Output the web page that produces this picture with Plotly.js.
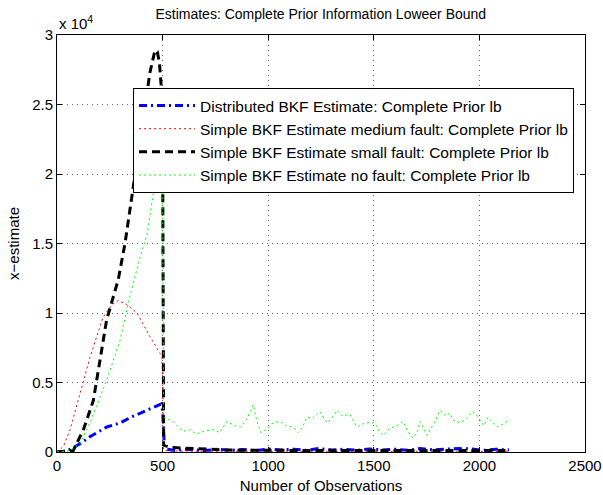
<!DOCTYPE html>
<html>
<head>
<meta charset="utf-8">
<script src="https://cdn.plot.ly/plotly-3.0.1.min.js"></script>
<style>html,body{margin:0;padding:0;background:#fff}#chart{width:603px;height:495px}</style>
</head>
<body>
<div id="chart"></div>
<script>
// y values are in units of 10^4 (as shown on the axis)
const seriesNames = [
  'Distributed BKF Estimate: Complete Prior lb',
  'Simple BKF Estimate medium fault: Complete Prior lb',
  'Simple BKF Estimate small fault: Complete Prior lb',
  'Simple BKF Estimate no fault: Complete Prior lb'
];

const distObs = [0,40,77,120,156,200,236,280,313,350,393,440,478,492,500,503,508,520,560,600,650,700,760,820,880,940,1000,1060,1120,1180,1240,1300,1360,1420,1480,1540,1600,1660,1720,1780,1840,1900,1960,2020,2080,2140];
const distEst = [0,0.005,0.03,0.07,0.11,0.15,0.18,0.20,0.22,0.25,0.28,0.31,0.34,0.345,0.3,0.18,0.05,0.02,0.01,0.02,0.015,0.01,0.02,0.012,0.018,0.01,0.022,0.015,0.02,0.012,0.025,0.015,0.02,0.012,0.022,0.015,0.02,0.012,0.025,0.015,0.02,0.025,0.022,0.012,0.02,0.015];

const medObs = [0,30,62,109,156,218,260,290,330,379,440,488,498,503,510,560,620,700,800,900,1000,1100,1200,1300,1400,1500,1600,1700,1800,1900,2000,2100,2140];
const medEst = [0,0.04,0.16,0.42,0.68,0.97,1.06,1.09,1.06,1.0,0.83,0.71,0.68,0.03,0.01,0.008,0.006,0.005,0.006,0.005,0.006,0.004,0.005,0.006,0.005,0.004,0.006,0.005,0.004,0.005,0.006,0.005,0.005];

const smallObs = [0,40,77,125,172,235,290,322,380,440,464,475,485,495,500,505,530,560,600,650,700,800,900,1000,1100,1200,1300,1400,1500,1600,1700,1800,1900,2000,2100,2140];
const smallEst = [0,0.003,0.01,0.16,0.37,0.95,1.24,1.5,2.1,2.73,2.89,2.88,2.8,2.6,2.3,0.05,0.035,0.03,0.028,0.025,0.02,0.015,0.012,0.012,0.01,0.012,0.01,0.011,0.01,0.012,0.01,0.011,0.01,0.012,0.01,0.01];

const noObs = [0,60,109,156,236,298,345,393,426,455,480,495,500,505,520,550,580,600,630,660,700,740,770,805,840,870,900,930,945,965,990,1023,1056,1085,1117,1141,1160,1183,1210,1245,1278,1300,1325,1350,1387,1420,1445,1467,1505,1525,1544,1575,1610,1638,1660,1686,1705,1719,1752,1770,1790,1813,1840,1861,1875,1908,1940,1965,1985,2003,2020,2041,2060,2083,2110,2131,2140];
const noEst = [0,0.01,0.06,0.21,0.52,0.8,1.12,1.4,1.56,1.85,2.0,2.05,2.0,0.25,0.24,0.22,0.17,0.15,0.16,0.13,0.15,0.16,0.14,0.22,0.19,0.18,0.24,0.34,0.23,0.14,0.16,0.21,0.22,0.19,0.18,0.14,0.17,0.25,0.24,0.29,0.21,0.24,0.30,0.26,0.27,0.18,0.20,0.21,0.21,0.15,0.12,0.17,0.19,0.22,0.15,0.10,0.14,0.22,0.12,0.17,0.22,0.30,0.26,0.28,0.23,0.21,0.24,0.29,0.27,0.23,0.19,0.25,0.22,0.18,0.20,0.22,0.23];

const xTicks = [0,500,1000,1500,2000,2500];
const yTicks = [0,0.5,1,1.5,2,2.5,3];
const yTickText = ['0','0.5','1','1.5','2','2.5','3'];

const FONT = 'Liberation Sans, Arial, Helvetica, sans-serif';

const traces = [
  {x: distObs, y: distEst, name: seriesNames[0], line:{color:'#0000ff', width:3, dash:'8px,4px,2px,4px'}},
  {x: medObs, y: medEst, name: seriesNames[1], line:{color:'#ff0000', width:1, dash:'2px,3px'}},
  {x: smallObs, y: smallEst, name: seriesNames[2], line:{color:'#000000', width:3, dash:'8px,5px'}},
  {x: noObs, y: noEst, name: seriesNames[3], line:{color:'#00ff00', width:1, dash:'2px,3px'}}
].map(t => Object.assign({type:'scatter', mode:'lines'}, t));

const axisCommon = {
  showline: true, linecolor: '#000', linewidth: 1, mirror: 'ticks',
  ticks: 'inside', ticklen: 5, tickcolor: '#000',
  showgrid: true, gridcolor: 'rgba(0,0,0,0.6)', gridwidth: 1, griddash: '1px,4px',
  zeroline: false, tickfont: {family: FONT, size: 15, color: '#000'}
};

const layout = {
  width: 603, height: 495,
  margin: {l: 57, r: 18, t: 35, b: 43},
  paper_bgcolor: '#fff', plot_bgcolor: '#fff',
  font: {family: FONT, size: 15, color: '#000'},
  title: {text: 'Estimates: Complete Prior Information Loweer Bound', font: {family: FONT, size: 14, color:'#000'}, x: 0.532, xanchor: 'center', y: 0.972, yanchor: 'middle'},
  xaxis: Object.assign({}, axisCommon, {range: [0, 2500], tickvals: xTicks, ticktext: xTicks.map(String),
    title: {text: 'Number of Observations', font: {family: FONT, size: 15}, standoff: 7}}),
  yaxis: Object.assign({}, axisCommon, {range: [0, 3], tickvals: yTicks, ticktext: yTickText,
    title: {text: 'x\u2212estimate', font: {family: FONT, size: 15}, standoff: 8}}),
  showlegend: true,
  legend: {x: 0.144, y: 0.873, xanchor: 'left', yanchor: 'top', bgcolor: '#fff', bordercolor: '#000', borderwidth: 1,
    font: {family: FONT, size: 15.5, color: '#000'}, itemwidth: 56, traceorder: 'normal'},
  annotations: [{xref:'paper', yref:'paper', x: 0.0, y: 1.0, xanchor:'left', yanchor:'bottom', showarrow:false,
    text: 'x 10<sup>4</sup>', font:{family: FONT, size: 15, color:'#000'}, xshift: 0, yshift: 1}]
};

Plotly.newPlot('chart', traces, layout, {displayModeBar: false, staticPlot: true});
</script>
</body>
</html>
